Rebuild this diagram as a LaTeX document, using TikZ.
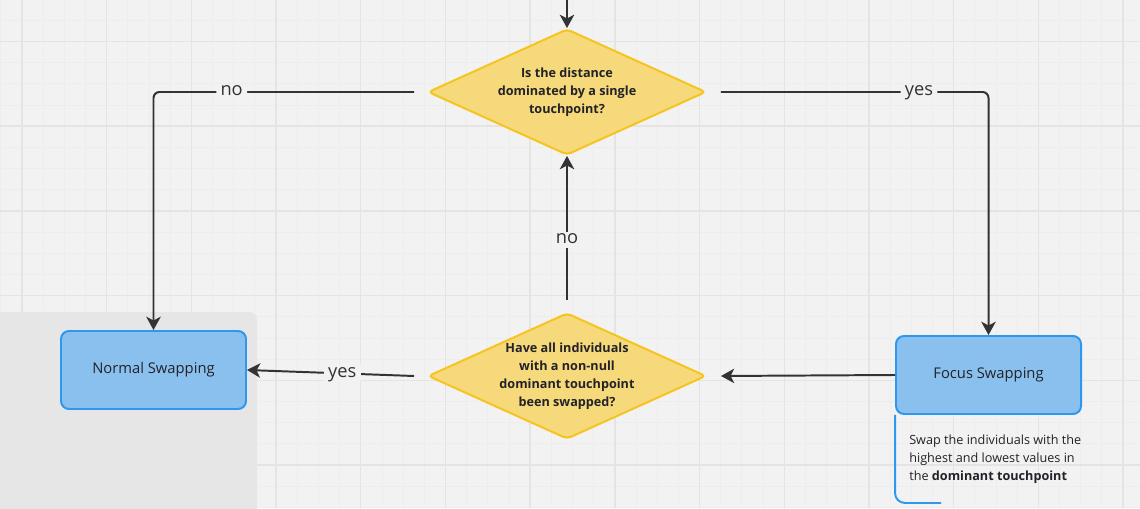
\documentclass[tikz,border=0pt]{standalone}
\usepackage{fontspec}
\setmainfont{Open Sans}
\definecolor{canvasgray}{RGB}{242, 242, 242}
\definecolor{gridminor}{RGB}{237, 237, 237}
\definecolor{gridmajor}{RGB}{228, 228, 228}
\definecolor{panelgray}{RGB}{230, 230, 230}
\definecolor{decfill}{RGB}{246, 217, 122}
\definecolor{decline}{RGB}{245, 196, 30}
\definecolor{boxfill}{RGB}{138, 192, 238}
\definecolor{boxline}{RGB}{45, 152, 238}
\definecolor{linkgray}{RGB}{51, 51, 51}
\definecolor{textdark}{RGB}{34, 34, 40}
\usetikzlibrary{shapes.geometric, arrows.meta, positioning, calc}

\begin{document}
\begin{tikzpicture}[
  decision/.style={diamond, aspect=2.2, draw=decline, fill=decfill, line width=1.4pt, rounded corners=3pt,
    minimum width=6.95cm, minimum height=3.15cm, inner xsep=-4pt, inner ysep=0pt, align=center,
    text=textdark, font={\fontsize{9}{12.8}\selectfont\bfseries}},
  swapbox/.style={draw=boxline, fill=boxfill, line width=1.4pt, rounded corners=0.2cm,
    minimum width=4.625cm, minimum height=1.95cm, text=textdark, font={\fontsize{10.5}{13}\selectfont}},
  flow/.style={draw=linkgray, line width=1.4pt, -{Stealth[length=0.33cm, width=0.36cm, inset=0.09cm]}},
  lbl/.style={fill=canvasgray, inner sep=3pt, text height=1ex, text depth=0pt, text=linkgray,
    font={\fontsize{13}{15}\selectfont}}
]
  % Canvas and grid
  \clip (0, 0) rectangle (28.5, 12.7);
  \fill[canvasgray] (0, 0) rectangle (28.5, 12.7);
  \foreach \i in {0,...,53} \draw[gridminor, line width=0.5pt] ({0.0175+\i*0.529375}, 0) -- ++(0, 12.7);
  \foreach \j in {0,...,24} \draw[gridminor, line width=0.5pt] (0, {0.01625+\j*0.529375}) -- ++(28.5, 0);
  \foreach \i in {0,...,13} \draw[gridmajor, line width=1pt] ({0.5475+\i*2.1175}, 0) -- ++(0, 12.7);
  \foreach \j in {0,...,5} \draw[gridmajor, line width=1pt] (0, {1.075+\j*2.1175}) -- ++(28.5, 0);

  % Grey frame behind Normal Swapping
  \fill[panelgray, rounded corners=0.2cm] (-0.5, -0.5) rectangle (6.425, 4.9);

  % Decisions
  \node[decision] (dominated) at (14.175, 10.4) {Is the distance\\dominated by a single\\touchpoint?};
  \node[decision] (allswapped) at (14.175, 3.3) {Have all individuals\\with a non-null\\dominant touchpoint\\been swapped?};

  % Swapping steps
  \node[swapbox] (normal) at (3.8375, 3.45) {Normal Swapping};
  \node[swapbox] (focus) at (24.7125, 3.325) {Focus Swapping};

  % Note under Focus Swapping
  \node[anchor=west, align=left, inner sep=0pt, text=textdark, font={\fontsize{9}{12.8}\selectfont}] (note) at (22.725, 1.225)
    {Swap the individuals with the\\highest and lowest values in\\the \textbf{dominant touchpoint}};
  \coordinate (noteend) at (23.525, 0.125);
  \draw[boxline, line width=1.4pt, rounded corners=0.25cm] (focus.south west) |- (noteend);

  % Connectors
  \coordinate (entry) at (14.175, 12.8);
  \draw[flow] (entry) -- (dominated.north);
  \draw[flow, rounded corners=0.15cm] ([xshift=-0.325cm]dominated.west) -| node[lbl, pos=0.35] {no} (normal.north);
  \draw[flow, rounded corners=0.15cm] ([xshift=0.35cm]dominated.east) -| node[lbl, pos=0.37] {yes} (focus.north);
  \draw[flow] ([yshift=0.3cm]allswapped.north) -- node[lbl, pos=0.42] {no} (dominated.south);
  \draw[flow] ([xshift=-0.325cm]allswapped.west) -- node[lbl, pos=0.43] {yes} (normal.east);
  \draw[flow] (focus.west) -- ([xshift=0.35cm]allswapped.east);
\end{tikzpicture}
\end{document}
